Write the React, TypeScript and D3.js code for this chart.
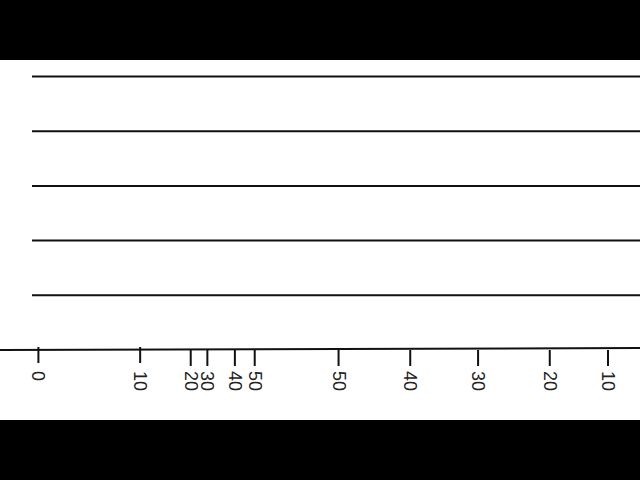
import { useEffect } from 'react'
import * as d3 from 'd3'

// hand-drawn number line: positions given as % of the frame width
const tickPos = [6.0, 21.9, 29.8, 32.4, 36.7, 39.8, 52.9, 64.1, 74.7, 85.9, 95.0]
const tickLabels = ['0', '10', '20', '30', '40', '50', '50', '40', '30', '20', '10']
const rows = [1, 2, 3, 4, 5]

const W = 640
const H = 480

export default function App() {
  useEffect(() => {
    document.body.style.margin = '0'
  }, [])

  const x = d3.scaleLinear().domain([0, 100]).range([0, W])
  const y = d3.scaleLinear().domain([0, 5]).range([350, 76.5])
  const axisY = y(0)

  return (
    <svg width={W} height={H} style={{ display: 'block', background: '#fff' }}>
      <rect x={0} y={0} width={W} height={60} fill="#000" />
      <rect x={0} y={420} width={W} height={60} fill="#000" />

      {rows.map(r => (
        <line key={r} x1={32} x2={W} y1={y(r)} y2={y(r)} stroke="#111" strokeWidth={2} />
      ))}

      <line x1={0} x2={W} y1={axisY} y2={axisY - 2} stroke="#111" strokeWidth={2} />

      {tickPos.map((p, i) => {
        const tx = x(p)
        return (
          <g key={i} transform={`translate(${tx},${axisY})`}>
            <line y1={i < 2 ? -3 : 0} y2={i < 2 ? 13 : 16} stroke="#111" strokeWidth={2} />
            <text
              transform="translate(0,21) rotate(90)"
              dominantBaseline="central"
              fontFamily="Liberation Sans, Arial, sans-serif"
              fontSize={18}
              fill="#222"
            >
              {tickLabels[i]}
            </text>
          </g>
        )
      })}
    </svg>
  )
}
